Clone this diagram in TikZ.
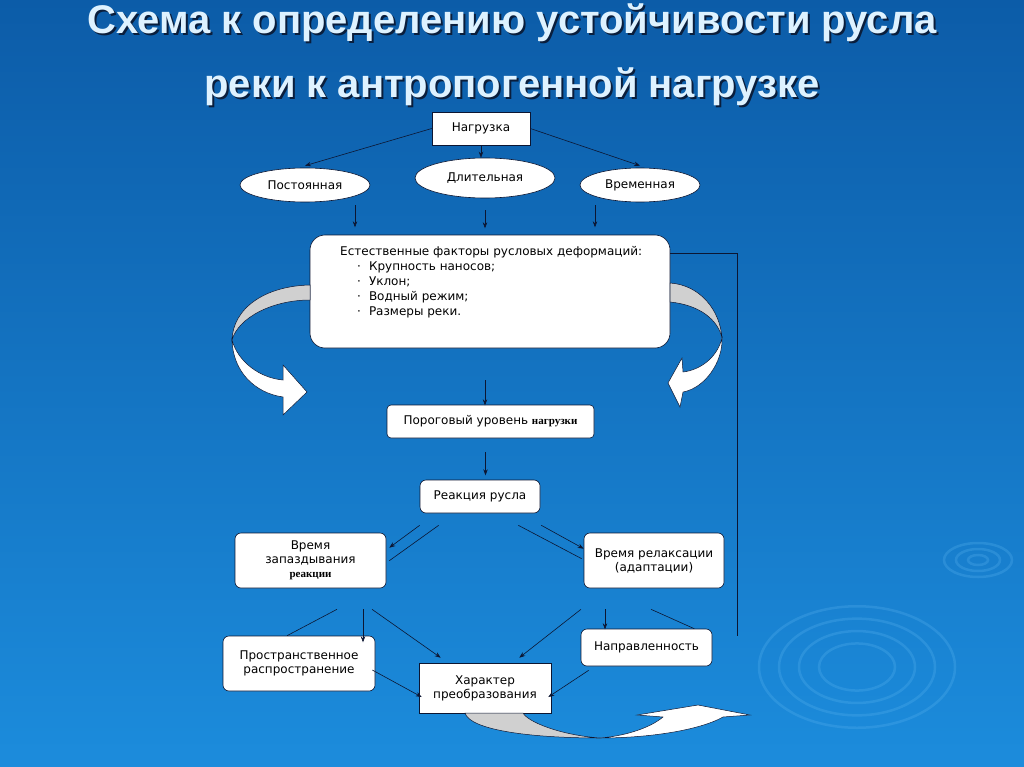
\documentclass[tikz,border=0pt]{standalone}
\usepackage{fontspec}
\setmainfont{DejaVu Sans}
\newfontfamily\titlefont{Liberation Sans}
\newfontfamily\serifb{Liberation Serif}
\usetikzlibrary{arrows.meta,shapes.geometric}
\definecolor{bgtop}{RGB}{12,92,168}
\definecolor{bgbot}{RGB}{28,140,220}
\definecolor{ripple}{RGB}{90,180,240}
\definecolor{linec}{RGB}{12,22,50}
\definecolor{titlec}{RGB}{222,242,255}
\definecolor{shadowc}{RGB}{10,30,60}
\definecolor{ribbon}{RGB}{208,208,208}
\tikzset{
  box/.style={draw=linec, fill=white, line width=0.6pt, inner sep=0pt, align=center,
    font=\fontsize{12}{14}\selectfont, text=black},
  rbox/.style={box, rounded corners=6pt},
  oval/.style={box, ellipse},
  arr/.style={draw=linec, line width=0.6pt, -{Stealth[length=6pt,width=4.5pt]}},
  ln/.style={draw=linec, line width=0.6pt},
  ribbonpart/.style={draw=linec, line width=0.5pt},
  ttl/.style={font=\titlefont\bfseries\fontsize{40}{44}\selectfont, inner sep=0pt}
}
\begin{document}
\begin{tikzpicture}[x=1pt,y=-1pt]
\shade[top color=bgtop, bottom color=bgbot] (0,0) rectangle (1024,767);
\useasboundingbox (0,0) rectangle (1024,767);
% ripples
\begin{scope}[ripple, line width=2.5pt, opacity=0.28]
  \foreach \r in {38,58,78,98} \draw (857,667) ellipse [x radius=\r, y radius=0.62*\r];
  \foreach \r in {10,22,34} \draw (978,560) ellipse [x radius=\r, y radius=0.5*\r];
\end{scope}
% title
\node[ttl, text=shadowc] at (514,25) {Схема к определению устойчивости русла};
\node[ttl, text=titlec] (t1) at (512,23) {Схема к определению устойчивости русла};
\node[ttl, text=shadowc] at (514,89) {реки к антропогенной нагрузке};
\node[ttl, text=titlec] (t2) at (512,87) {реки к антропогенной нагрузке};

% nodes
\node[box, minimum width=98pt, minimum height=33pt] (load) at (481,128.5) {Нагрузка};
\node[oval, minimum width=130pt, minimum height=34pt] (const) at (305,185) {Постоянная};
\node[oval, minimum width=140pt, minimum height=40pt] (long) at (485,178) {Длительная};
\node[oval, minimum width=120pt, minimum height=34pt] (temp) at (640,185) {Временная};
\node[box, rounded corners=15pt, minimum width=360pt, minimum height=113pt] (factors) at (490,291.5) {};
\node[anchor=north west, inner sep=0pt, font=\fontsize{12}{15}\selectfont, align=left] (ftext) at (340,246)
  {Естественные факторы русловых деформаций:\\
   \hspace*{17pt}\textperiodcentered\hspace{8pt}Крупность наносов;\\
   \hspace*{17pt}\textperiodcentered\hspace{8pt}Уклон;\\
   \hspace*{17pt}\textperiodcentered\hspace{8pt}Водный режим;\\
   \hspace*{17pt}\textperiodcentered\hspace{8pt}Размеры реки.};
\node[rbox, rounded corners=4pt, minimum width=207pt, minimum height=33pt] (thresh) at (490.5,421.5)
  {Пороговый уровень {\serifb\bfseries\fontsize{11}{12}\selectfont нагрузки}};
\node[rbox, minimum width=120pt, minimum height=33pt] (react) at (480,496.5) {Реакция русла};
\node[rbox, minimum width=151pt, minimum height=55pt] (lag) at (310.5,560.5)
  {Время\\запаздывания\\{\serifb\bfseries\fontsize{11}{12}\selectfont реакции}};
\node[rbox, minimum width=140pt, minimum height=55pt] (relax) at (654,560.5) {Время релаксации\\(адаптации)};
\node[rbox, minimum width=152pt, minimum height=55pt] (spatial) at (299,663.5) {Пространственное\\распространение};
\node[box, minimum width=132pt, minimum height=50pt] (char) at (485,688) {Характер\\преобразования};
\node[rbox, minimum width=131pt, minimum height=37pt] (dir) at (646.5,647.5) {Направленность};

% connectors top
\draw[arr] (load.west) -- ([yshift=2pt]const.north);
\draw[arr] (load.south) -- (load.south |- long.north);
\draw[arr] (load.east) -- ([yshift=2pt]temp.north);
\draw[arr] ([xshift=50pt,yshift=-3pt]const.south) -- ++(0,22);
\draw[arr] ([yshift=-12pt]long.south) -- ++(0,18);
\draw[arr] ([xshift=-45pt,yshift=-3pt]temp.south) -- ++(0,22);
\draw[arr] ([xshift=-5pt,yshift=-32pt]factors.south) -- ++(0,25);
\draw[arr] ([xshift=-5pt,yshift=-14pt]thresh.south) -- ++(0,23);
% reaction fan-out
\draw[arr] ([yshift=-12pt]react.south west) -- ([xshift=3pt,yshift=-15pt]lag.north east);
\draw[ln] ([xshift=19pt,yshift=-12pt]react.south west) -- ([xshift=3pt,yshift=-28pt]lag.north east);
\draw[ln] ([xshift=-22pt,yshift=-12pt]react.south east) -- ([xshift=-2pt,yshift=-26pt]relax.north west);
\draw[arr] ([xshift=1pt,yshift=-12pt]react.south east) -- ([yshift=-16pt]relax.north west);
% bottom connectors
\draw[ln] ([xshift=26.5pt,yshift=-21pt]lag.south) -- ([xshift=-12pt]spatial.north);
\draw[arr] ([xshift=52.5pt,yshift=-21pt]lag.south) -- ++(0,33);
\draw[arr] ([xshift=61.5pt,yshift=-21pt]lag.south) -- ([xshift=22pt,yshift=5pt]char.north west);
\draw[arr] ([xshift=-3pt,yshift=-6.5pt]spatial.east) -- ([xshift=3pt,yshift=-9pt]char.west);
\draw[arr] ([xshift=-73pt,yshift=-21pt]relax.south) -- ([xshift=-32pt,yshift=5pt]char.north east);
\draw[arr] ([xshift=-49pt,yshift=-21pt]relax.south) -- ++(0,20);
\draw[ln] ([xshift=-3pt,yshift=-21pt]relax.south) -- ([xshift=-18pt]dir.north east);
\draw[arr] ([xshift=8pt,yshift=-4pt]dir.south west) -- ([xshift=-3pt,yshift=-9pt]char.east);
% feedback line
\draw[ln] ([yshift=-19pt]factors.north east) -- ++(67,0) -- ++(0,382);

% curved 3D arrows
% left
\filldraw[ribbonpart, fill=ribbon] (310,285) .. controls (265,286) and (233,308) .. (232,340)
   .. controls (238,318) and (272,300) .. (310,300) -- cycle;
\filldraw[ribbonpart, fill=white] (232,340) .. controls (233,372) and (255,393) .. (283,397)
   -- (283,415) -- (307,392) -- (283,365) -- (283,380)
   .. controls (260,378) and (238,362) .. (232,340) -- cycle;
% right
\filldraw[ribbonpart, fill=ribbon] (670,283) .. controls (700,285) and (720,310) .. (722,338)
   .. controls (718,320) and (700,305) .. (670,302) -- cycle;
\filldraw[ribbonpart, fill=white] (722,338) .. controls (723,362) and (705,388) .. (683,392)
   -- (680,407) -- (668,383) -- (682,358) -- (683,372)
   .. controls (700,370) and (717,358) .. (722,338) -- cycle;
% bottom
\filldraw[ribbonpart, fill=ribbon] (465,713) .. controls (470,730) and (530,738) .. (600,738)
   .. controls (560,735) and (528,722) .. (523,713) -- cycle;
\filldraw[ribbonpart, fill=white] (600,738) .. controls (650,738) and (700,730) .. (723,717)
   -- (750,715) -- (698,705) -- (637,715) -- (663,717)
   .. controls (650,728) and (625,736) .. (600,738) -- cycle;
\end{tikzpicture}
\end{document}
